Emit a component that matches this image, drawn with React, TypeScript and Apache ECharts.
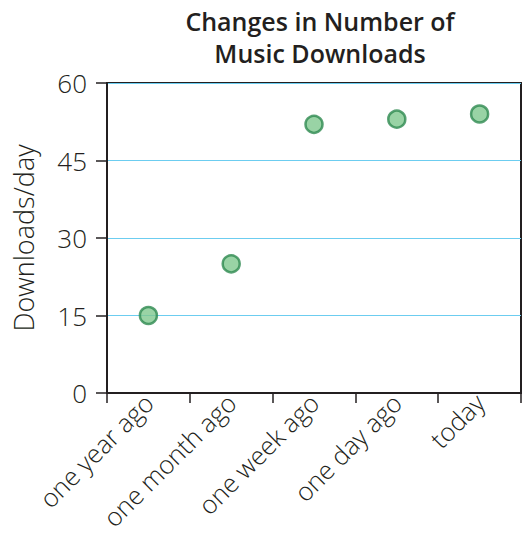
import React, { useEffect, useRef } from "react";
import * as echarts from "echarts";

const categories = ["one year ago", "one month ago", "one week ago", "one day ago", "today"];
const downloads = [15, 25, 52, 53, 54];
const yMin = 0;
const yMax = 60;
const yInterval = 15;
const titleText = "Changes in Number of\nMusic Downloads";
const yAxisName = "Downloads/day";

export default function App() {
  const ref = useRef<HTMLDivElement>(null);
  useEffect(() => {
    if (!ref.current) return;
    const chart = echarts.init(ref.current, undefined, { renderer: "svg" });
    const font = "'Open Sans', 'Noto Sans', sans-serif";
    chart.setOption({
      animation: false,
      backgroundColor: "#ffffff",
      title: {
        text: titleText,
        left: 315,
        top: 0,
        textAlign: "center",
        textStyle: {
          fontFamily: font,
          fontSize: 25,
          fontWeight: 600,
          color: "#231f20",
          lineHeight: 32,
        },
      },
      grid: {
        left: 107,
        right: 1,
        top: 83,
        bottom: 148,
        show: true,
        borderColor: "#231f20",
        borderWidth: 2,
        containLabel: false,
        outerBoundsMode: "none",
      },
      xAxis: {
        type: "category",
        data: categories,
        boundaryGap: true,
        axisLine: { show: true, lineStyle: { color: "#231f20", width: 2 } },
        axisTick: { show: true, length: 10, alignWithLabel: false, lineStyle: { color: "#231f20", width: 1.5 } },
        axisLabel: {
          rotate: 45,
          interval: 0,
          margin: 5,
          fontFamily: font,
          fontSize: 25.5,
          fontWeight: 300,
          color: "#231f20",
        },
        splitLine: { show: false },
      },
      yAxis: {
        type: "value",
        min: yMin,
        max: yMax,
        interval: yInterval,
        name: yAxisName,
        nameLocation: "middle",
        nameGap: 70,
        nameTextStyle: { fontFamily: font, fontSize: 27, fontWeight: 300, color: "#231f20" },
        axisLine: { show: true, lineStyle: { color: "#231f20", width: 2 } },
        axisTick: { show: true, length: 11, lineStyle: { color: "#231f20", width: 1.5 } },
        axisLabel: { margin: 20, fontFamily: font, fontSize: 26, fontWeight: 300, color: "#231f20" },
        splitLine: { show: true, lineStyle: { color: "#6ccdf0", width: 1.2 } },
      },
      series: [
        {
          type: "scatter",
          data: downloads,
          symbol: "circle",
          symbolSize: 17,
          itemStyle: { color: "#7fc88f", borderColor: "#2e8a50", borderWidth: 2.5 },
          z: 5,
        },
      ],
    });
    return () => chart.dispose();
  }, []);
  return (
    <div
      ref={ref}
      style={{ position: "fixed", left: 0, top: 0, width: 522, height: 541 }}
    />
  );
}
